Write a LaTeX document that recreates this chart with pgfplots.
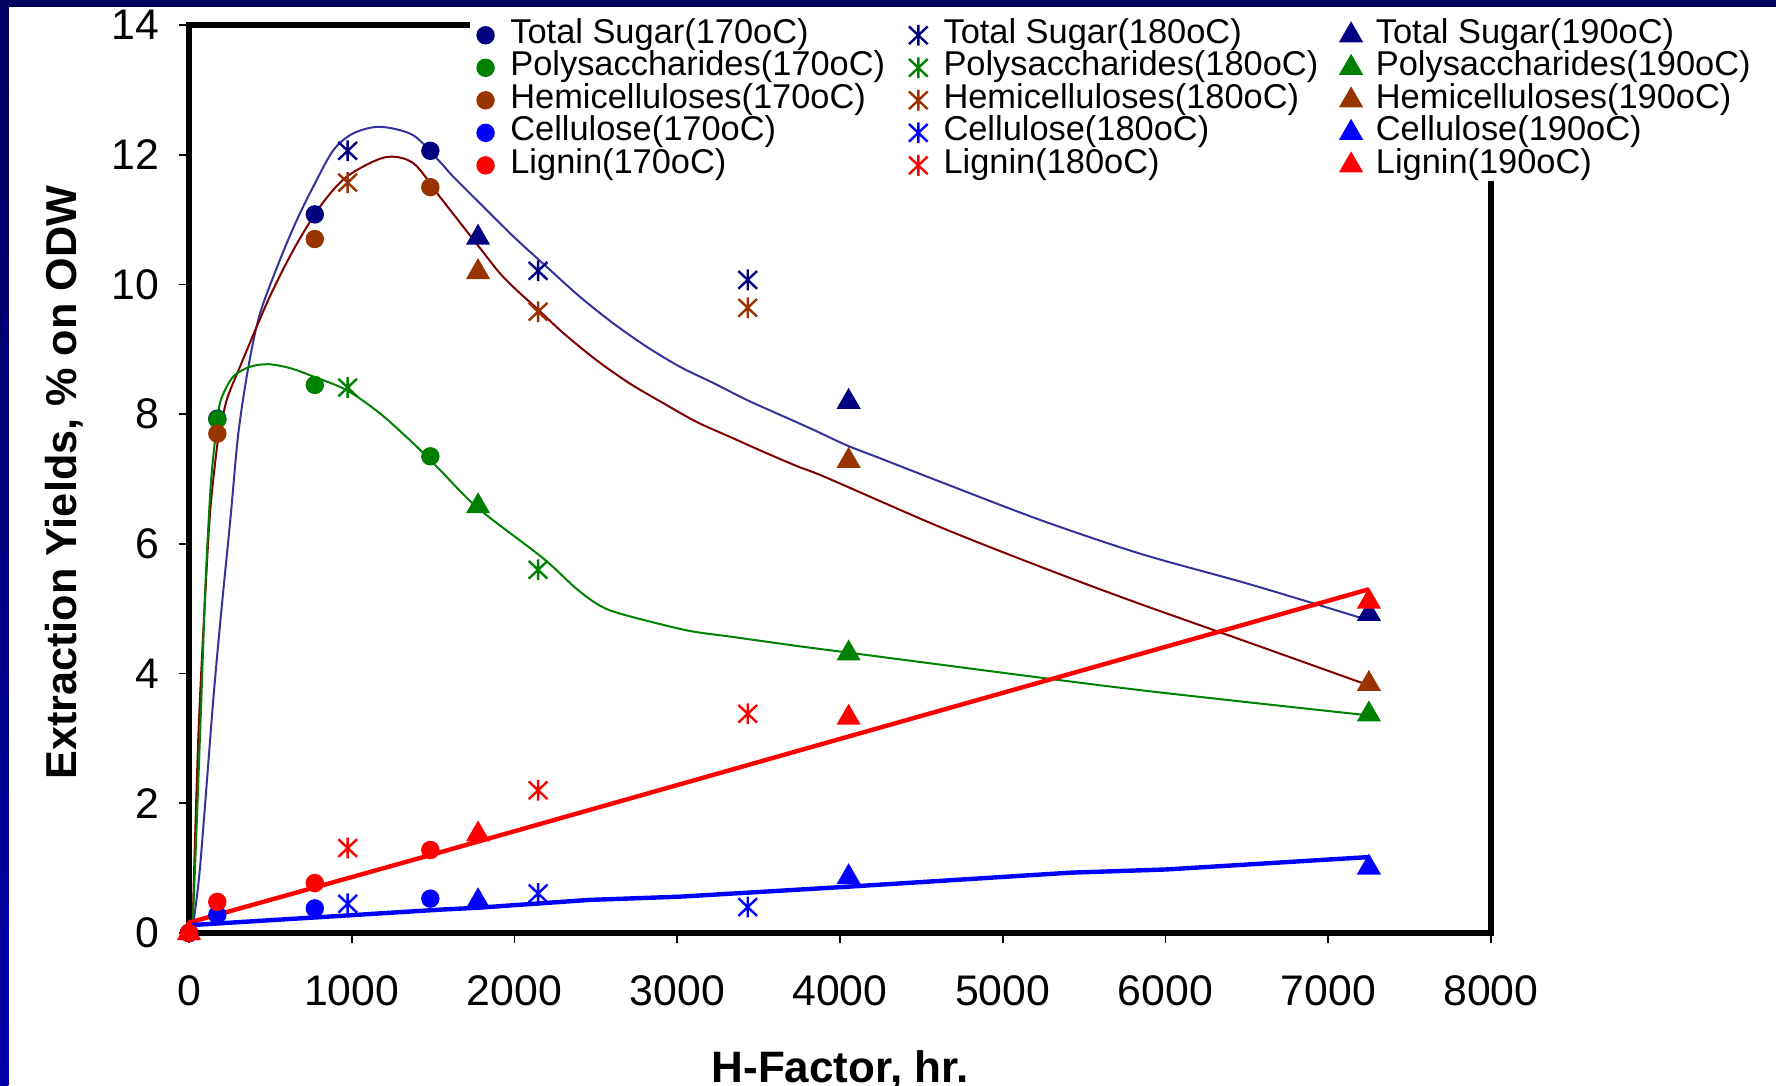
\documentclass[border=0pt]{standalone}
\usepackage{pgfplots}
\pgfplotsset{compat=1.18}
\usepackage{fontspec}
\setmainfont{Liberation Sans}
\definecolor{cTS}{HTML}{000080}
\definecolor{cPS}{HTML}{008000}
\definecolor{cHC}{HTML}{993300}
\definecolor{cCL}{HTML}{0000FF}
\definecolor{cLG}{HTML}{FF0000}
\definecolor{lTS}{HTML}{333399}
\definecolor{lHC}{HTML}{800000}
\definecolor{frameTop}{HTML}{00005E}
\definecolor{frameBot}{HTML}{0000A8}
\pgfdeclareplotmark{xast}{%
  \pgfpathmoveto{\pgfqpoint{0pt}{\pgfplotmarksize}}%
  \pgfpathlineto{\pgfqpoint{0pt}{-\pgfplotmarksize}}%
  \pgfpathmoveto{\pgfqpoint{-0.9\pgfplotmarksize}{0.85\pgfplotmarksize}}%
  \pgfpathlineto{\pgfqpoint{0.9\pgfplotmarksize}{-0.85\pgfplotmarksize}}%
  \pgfpathmoveto{\pgfqpoint{-0.9\pgfplotmarksize}{-0.85\pgfplotmarksize}}%
  \pgfpathlineto{\pgfqpoint{0.9\pgfplotmarksize}{0.85\pgfplotmarksize}}%
  \pgfusepathqstroke}
\begin{document}
\begin{tikzpicture}[x=1pt,y=1pt]
\path[use as bounding box] (0,0) rectangle (444,271.25);
\shade[top color=frameTop, bottom color=frameBot] (0,0) rectangle (2.1,271.25);
\fill[frameTop] (0,269.4) rectangle (444,271.25);
\begin{axis}[
  at={(47.25pt,38pt)}, anchor=south west,
  scale only axis, width=325.5pt, height=227pt,
  xmin=0, xmax=8000, ymin=0, ymax=14,
  xtick={0,1000,2000,3000,4000,5000,6000,7000,8000},
  ytick={0,2,4,6,8,10,12,14},
  scaled x ticks=false,
  /pgf/number format/set thousands separator={},
  /pgf/number format/assume math mode=true,
  tick label style={font=\fontsize{10.7}{12}\selectfont, black},
  xticklabel style={yshift=-4.5pt},
  yticklabel style={xshift=-1.4pt},
  axis line style={line width=1.3pt, black},
  tick align=outside, tick pos=left,
  major tick length=2.6pt,
  tick style={line width=0.4pt, black},
  clip=false,
  xlabel={H-Factor, hr.},
  xlabel style={font=\bfseries\fontsize{11}{13}\selectfont, at={(axis description cs:0.5,-0.1648)}, anchor=base},
  ylabel={Extraction Yields, \% on ODW},
  ylabel style={font=\bfseries\fontsize{10.8}{13}\selectfont, at={(axis description cs:-0.0956,0.496)}, anchor=center},
  legend columns=3,
  legend cell align=left,
  legend style={at={(axis description cs:0.2158,0.8278)}, anchor=south west,
    fill=white, draw=none, inner sep=0pt, outer sep=0pt,
    font=\fontsize{8.6}{8}\selectfont, row sep=0.13pt,
    nodes={inner sep=0pt, text height=6pt, text depth=2pt},
    /tikz/every even column/.append style={column sep=4.3pt}},
  legend image code/.code={\path (-3.7pt,0pt) (6.0pt,0pt); \draw[#1] plot coordinates {(0pt,0pt)};},
  m170/.style={only marks, mark=*, mark size=2.1pt},
  m180/.style={only marks, mark=xast, mark size=2.6pt, line width=0.6pt},
  m190/.style={only marks, mark=triangle*, mark size=3.1pt},
]
% fitted curves
\addplot[lTS, line width=0.5pt, smooth, forget plot] coordinates {
(26,0.15) (68,1.02) (149,3.59) (200,5.0) (255,6.4) (303,7.70) (365,8.73) (436,9.55) (559,10.38) (662,10.99) (764,11.51) (887,12.07) (1010,12.33) (1174,12.43) (1378,12.30) (1542,11.89) (1624,11.66) (1788,11.25) (1993,10.74) (2198,10.27) (2402,9.81) (2607,9.40) (2812,9.04) (3017,8.73) (3222,8.48) (3427,8.22) (3631,7.99) (3836,7.76) (4041,7.52) (4246,7.32) (4614,6.96) (5229,6.37) (5843,5.85) (6458,5.42) (6847,5.13) (7211,4.85)};
\addplot[lHC, line width=0.5pt, smooth, forget plot] coordinates {
(23,0.15) (33,1.1) (60,3.2) (98,5.13) (130,6.5) (170,7.45) (186,7.69) (232,8.22) (313,8.73) (487,9.76) (641,10.53) (805,11.20) (969,11.66) (1204,11.96) (1378,11.87) (1542,11.35) (1604,11.15) (1788,10.56) (1911,10.17) (2014,9.91) (2146,9.61) (2300,9.25) (2505,8.83) (2710,8.47) (2914,8.17) (3119,7.88) (3324,7.65) (3529,7.42) (3734,7.20) (3918,7.02) (4614,6.26) (5229,5.65) (5782,5.13) (6500,4.49) (7214,3.85)};
\addplot[cPS, line width=0.5pt, smooth, forget plot] coordinates {
(23,0.15) (40,1.2) (70,3.2) (100,5.3) (125,6.55) (143,7.19) (176,7.94) (200,8.25) (272,8.58) (375,8.73) (487,8.77) (621,8.71) (764,8.58) (969,8.37) (1174,8.01) (1378,7.55) (1542,7.14) (1776,6.55) (2175,5.78) (2366,5.34) (2503,5.08) (2641,4.93) (3052,4.67) (3327,4.57) (3754,4.42) (4061,4.32) (5597,3.82) (6392,3.59) (7306,3.34)};
\addplot[cLG, line width=1.1pt, forget plot] coordinates {
(0,0.16) (1481,1.20) (4053,3.03) (7250,5.30)};
\addplot[cCL, line width=1.1pt, forget plot] coordinates {
(0,0.12) (967,0.27) (1542,0.36) (1776,0.39) (2457,0.51) (3014,0.56) (4023,0.71) (5414,0.93) (6006,0.98) (7244,1.17)};
% data points
\addplot[cTS, m170] coordinates {(0,0) (174,7.93) (773,11.08) (1483,12.06)};
\addlegendentry{Total Sugar(170oC)}
\addplot[cTS, m180] coordinates {(975,12.06) (2145,10.21) (3433,10.07)};
\addlegendentry{Total Sugar(180oC)}
\addplot[cTS, m190] coordinates {(1776,10.72) (4053,8.19) (7250,4.92)};
\addlegendentry{Total Sugar(190oC)}
\addplot[cPS, m170] coordinates {(0,0) (174,7.92) (773,8.45) (1483,7.35)};
\addlegendentry{Polysaccharides(170oC)}
\addplot[cPS, m180] coordinates {(975,8.41) (2145,5.60)};
\addlegendentry{Polysaccharides(180oC)}
\addplot[cPS, m190] coordinates {(1776,6.58) (4053,4.31) (7250,3.37)};
\addlegendentry{Polysaccharides(190oC)}
\addplot[cHC, m170] coordinates {(0,0) (174,7.70) (773,10.70) (1483,11.50)};
\addlegendentry{Hemicelluloses(170oC)}
\addplot[cHC, m180] coordinates {(975,11.57) (2145,9.58) (3433,9.64)};
\addlegendentry{Hemicelluloses(180oC)}
\addplot[cHC, m190] coordinates {(1776,10.19) (4053,7.28) (7250,3.84)};
\addlegendentry{Hemicelluloses(190oC)}
\addplot[cCL, m170] coordinates {(0,0) (174,0.28) (773,0.38) (1483,0.53)};
\addlegendentry{Cellulose(170oC)}
\addplot[cCL, m180] coordinates {(975,0.45) (2145,0.61) (3433,0.40)};
\addlegendentry{Cellulose(180oC)}
\addplot[cCL, m190] coordinates {(1776,0.49) (4053,0.86) (7250,1.01)};
\addlegendentry{Cellulose(190oC)}
\addplot[cLG, m170] coordinates {(0,0) (174,0.48) (773,0.77) (1483,1.28)};
\addlegendentry{Lignin(170oC)}
\addplot[cLG, m180] coordinates {(975,1.31) (2145,2.20) (3433,3.38)};
\addlegendentry{Lignin(180oC)}
\addplot[cLG, m190] coordinates {(0,0) (1776,1.52) (4053,3.32) (7250,5.11)};
\addlegendentry{Lignin(190oC)}
\end{axis}
\end{tikzpicture}
\end{document}
